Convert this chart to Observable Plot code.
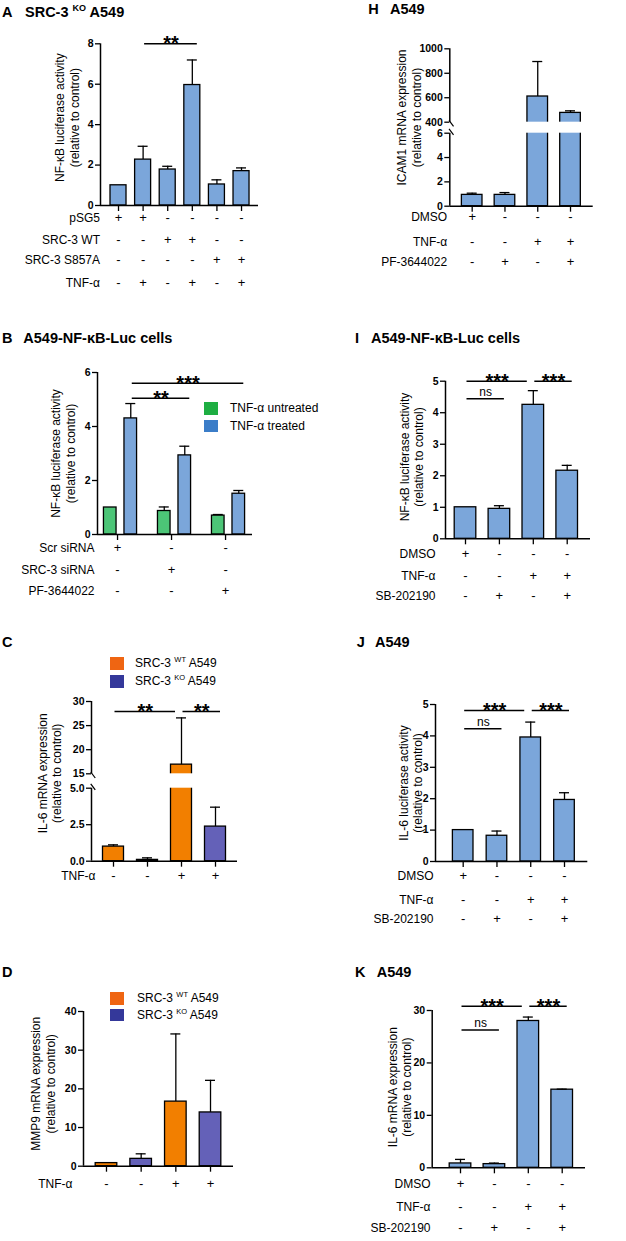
<!DOCTYPE html>
<html><head><meta charset="utf-8">
<script src="https://cdn.jsdelivr.net/npm/d3@7"></script>
<script src="https://cdn.jsdelivr.net/npm/@observablehq/plot@0.6"></script>
<style>
body{margin:0;background:#fff;}
#fig{position:relative;width:626px;height:1241px;font-family:"Liberation Sans",Arial,Helvetica,sans-serif;color:#000;overflow:hidden;background:#fff;}
.ttl{position:absolute;font-weight:bold;font-size:14.5px;line-height:16px;white-space:nowrap;}
.leg{position:absolute;font-size:12px;line-height:14px;white-space:nowrap;}
.sw{position:absolute;width:14px;height:12.5px;}
.ttl sup{font-size:9px;vertical-align:0;position:relative;top:-6px;}
.leg sup{font-size:7.5px;vertical-align:0;position:relative;top:-5px;}
</style></head><body><div id="fig"></div><script>
// ---------- colours ----------
const blueBar = "#7ba6da", greenBar = "#4cc577", orangeBar = "#f27f00", purpleBar = "#6461b8";
const greenKey = "#1eae42", blueKey = "#3b7dc8", orangeKey = "#ef6512", purpleKey = "#34389a";

// ---------- Panel A ----------
const aBars = [1.00, 2.27, 1.78, 5.96, 1.04, 1.70];
const aErrs = [0, 0.66, 0.16, 1.24, 0.23, 0.16];
const aYTicks = [0, 2, 4, 6, 8];
const aRowLabels = ["pSG5", "SRC-3 WT", "SRC-3 S857A", "TNF-α"];
const aRowSigns = [["+","+","-","-","-","-"],["-","-","+","+","-","-"],["-","-","-","-","+","+"],["-","+","-","+","-","+"]];
const aSig = [{from: 2, to: 4, y: 8, label: "**"}];

// ---------- Panel B ----------
const bSeries = ["TNF-α untreated", "TNF-α treated"];
const bUntreated = [1.00, 0.87, 0.70];
const bUntreatedErr = [0, 0.15, 0.04];
const bTreated = [4.30, 2.93, 1.51];
const bTreatedErr = [0.55, 0.34, 0.12];
const bYTicks = [0, 2, 4, 6];
const bRowLabels = ["Scr siRNA", "SRC-3 siRNA", "PF-3644022"];
const bRowSigns = [["+","-","-"],["-","+","-"],["-","-","+"]];
const bSig = [{from: 2, to: 4, y: 5.05, label: "**"}, {from: 2, to: 6, y: 5.6, label: "***"}];

// ---------- Panel C ----------
const cSeries = ["WT", "KO", "WT", "KO"];
const cBars = [1.00, 0.09, 16.9, 2.37];
const cErrs = [0.12, 0.14, 9.7, 1.33];
const cYTicks = [0, 2.5, 5, 15, 20, 25, 30];
const cRowLabels = ["TNF-α"];
const cRowSigns = [["-","-","+","+"]];
const cSig = [{from: 1, to: 3, y: 27.9, label: "**"}, {from: 3, to: 4, y: 27.9, label: "**"}];

// ---------- Panel D ----------
const dSeries = ["WT", "KO", "WT", "KO"];
const dBars = [0.8, 1.9, 16.7, 13.9];
const dErrs = [0, 1.3, 17.5, 8.3];
const dYTicks = [0, 10, 20, 30, 40];
const dRowLabels = ["TNF-α"];
const dRowSigns = [["-","-","+","+"]];

// ---------- Panel H ----------
const hBars = [0.93, 0.93, 610, 476];
const hErrs = [0.14, 0.19, 286, 17];
const hYTicks = [0, 2, 4, 6, 400, 600, 800, 1000];
const hRowLabels = ["DMSO", "TNF-α", "PF-3644022"];
const hRowSigns = [["+","-","-","-"],["-","-","+","+"],["-","+","-","+"]];

// ---------- Panel I ----------
const iBars = [1.00, 0.95, 4.25, 2.16];
const iErrs = [0, 0.10, 0.45, 0.17];
const iYTicks = [0, 1, 2, 3, 4, 5];
const iRowLabels = ["DMSO", "TNF-α", "SB-202190"];
const iRowSigns = [["+","-","-","-"],["-","-","+","+"],["-","+","-","+"]];
const iSig = [{from: 1, to: 3, y: 5, label: "***"}, {from: 3, to: 4, y: 5, label: "***"}, {from: 1, to: 2, y: 4.44, label: "ns"}];

// ---------- Panel J ----------
const jBars = [1.00, 0.82, 3.95, 1.96];
const jErrs = [0, 0.15, 0.49, 0.23];
const jYTicks = [0, 1, 2, 3, 4, 5];
const jRowLabels = ["DMSO", "TNF-α", "SB-202190"];
const jRowSigns = [["+","-","-","-"],["-","-","+","+"],["-","+","-","+"]];
const jSig = [{from: 1, to: 3, y: 4.81, label: "***"}, {from: 3, to: 4, y: 4.81, label: "***"}, {from: 1, to: 2, y: 4.23, label: "ns"}];

// ---------- Panel K ----------
const kBars = [0.83, 0.70, 28.0, 14.9];
const kErrs = [0.77, 0.2, 0.75, 0.1];
const kYTicks = [0, 10, 20, 30];
const kRowLabels = ["DMSO", "TNF-α", "SB-202190"];
const kRowSigns = [["+","-","-","-"],["-","-","+","+"],["-","+","-","+"]];
const kSig = [{from: 1, to: 3, y: 30.8, label: "***"}, {from: 3, to: 4, y: 30.8, label: "***"}, {from: 1, to: 2, y: 26.3, label: "ns"}];

// ---------- drawing ----------
const FONT = '"Liberation Sans", Arial, Helvetica, sans-serif';
const fig = document.getElementById("fig");
const slash = {draw(ctx, size) { const r = Math.sqrt(size / Math.PI); ctx.moveTo(-r * 0.75, -r); ctx.lineTo(r * 0.75, r); }};

function simpleBars(vals, errs, fills) {
  return vals.map((v, i) => ({x: i + 1, v, e: errs[i], fill: fills[i]}));
}

function drawPanel(p) {
  const [L, T, W, H] = p.box;
  const [fx0, fx1, fyTop, fyBot] = p.frame;
  const ux = (fx1 - fx0) / (p.xDom[1] - p.xDom[0]);
  const hw = p.barHalf / ux, ch = 5 / ux;
  const bars = p.bars;
  const withErr = bars.filter(d => d.e > 0);
  const sigList = p.sigs || [];
  const sigs = sigList.map(s => {
    const cont = sigList.some(t => t.from === s.to);
    return {...s, x1: bars[s.from - 1].x + 1.5 / ux, x2: bars[s.to - 1].x + (cont ? -6 : 5) / ux};
  });
  const segs = p.segments || [{lo: p.yDom[0], hi: p.yDom[p.yDom.length - 1]}];
  const xTicks = p.xTicks || bars.map(d => d.x);
  const marks = [
    Plot.rect(bars, {x1: d => d.x - hw, x2: d => d.x + hw, y1: () => 0, y2: d => d.v, fill: d => d.fill, stroke: "#000", strokeWidth: 1.3}),
    Plot.ruleX(withErr, {x: d => d.x, y1: d => d.v, y2: d => d.v + d.e, strokeWidth: 1.3}),
    Plot.ruleY(withErr, {y: d => d.v + d.e, x1: d => d.x - ch, x2: d => d.x + ch, strokeWidth: 1.3})
  ];
  if (p.gaps) {
    marks.push(Plot.rect(p.gaps, {x1: () => p.xDom[0], x2: () => p.xDom[1], y1: d => d.lo, y2: d => d.hi, fill: "#fff"}));
    marks.push(Plot.dot(p.gaps, {x: () => p.xDom[0], y: d => d.hi, symbol: slash, r: 3, fill: "none", stroke: "#000", strokeWidth: 1.2, dx: 1.5, dy: 1.2}));
    marks.push(Plot.dot(p.gaps, {x: () => p.xDom[0], y: d => d.lo, symbol: slash, r: 3, fill: "none", stroke: "#000", strokeWidth: 1.2, dx: 1.5, dy: -1.4}));
  }
  marks.push(
    Plot.ruleX(segs, {x: () => p.xDom[0], y1: d => d.lo, y2: d => d.hi, strokeWidth: 1.5}),
    Plot.ruleY([0], {strokeWidth: 1.5}),
    Plot.axisY({ticks: p.yTicks, tickFormat: p.tickFmt || (d => String(d)), tickSize: 5, tickPadding: 2, fontSize: 10.5, fontWeight: "bold", strokeWidth: 1.3, label: null}),
    Plot.axisX({ticks: xTicks, tickSize: 6, tickFormat: () => "", label: null, strokeWidth: 1.3}),
    Plot.text([p.yTitle], {text: d => d, frameAnchor: "left", textAnchor: "middle", lineAnchor: "middle", rotate: -90, dx: p.yTitleDx, dy: p.yTitleDy, fontSize: 12, lineHeight: 1.2})
  );
  p.rowLabels.forEach((lab, k) => {
    marks.push(Plot.text([lab], {text: d => d, frameAnchor: "bottom-left", textAnchor: "end", dx: p.rowLabelDx, dy: p.rowDy[k], fontSize: 12}));
    marks.push(Plot.text(p.rowSigns[k].map((s, i) => ({s, x: xTicks[i]})), {x: d => d.x, text: d => d.s, frameAnchor: "bottom", textAnchor: "middle", dy: p.rowDy[k], fontSize: 13}));
  });
  if (sigs.length) {
    marks.push(Plot.ruleY(sigs, {y: d => d.y, x1: d => d.x1, x2: d => d.x2, strokeWidth: 1.5}));
    marks.push(Plot.text(sigs.filter(d => d.label !== "ns"), {x: d => (d.x1 + d.x2) / 2, y: d => d.y, text: d => d.label, fontWeight: "bold", fontSize: 20, lineAnchor: "bottom", dy: 6.5}));
    marks.push(Plot.text(sigs.filter(d => d.label === "ns"), {x: d => (d.x1 + d.x2) / 2, y: d => d.y, text: d => d.label, fontSize: 12, lineAnchor: "bottom", dy: -3}));
  }
  const svg = Plot.plot({
    width: W, height: H,
    marginLeft: fx0 - L, marginRight: L + W - fx1, marginTop: fyTop - T, marginBottom: T + H - fyBot,
    x: {type: "linear", domain: p.xDom, range: [fx0 - L, fx1 - L]},
    y: {type: "linear", domain: p.yDom, range: p.yPix.map(v => v - T)},
    style: {fontFamily: FONT, fontSize: "12px", background: "transparent", overflow: "visible", color: "#000"},
    marks
  });
  svg.style.position = "absolute";
  svg.style.left = L + "px";
  svg.style.top = T + "px";
  svg.style.maxWidth = "none";
  fig.append(svg);
}

function addTitle(letter, lx, text, tx, cy) {
  const a = document.createElement("div");
  a.className = "ttl"; a.style.left = lx + "px"; a.style.top = (cy - 7.8) + "px"; a.textContent = letter;
  fig.append(a);
  if (text) {
    const b = document.createElement("div");
    b.className = "ttl"; b.style.left = tx + "px"; b.style.top = (cy - 7.8) + "px"; b.innerHTML = text;
    fig.append(b);
  }
}
function addLegend(sx, tx, items) {
  items.forEach(it => {
    const s = document.createElement("div");
    s.className = "sw"; s.style.left = sx + "px"; s.style.top = it.sy + "px"; s.style.background = it.color;
    fig.append(s);
    const t = document.createElement("div");
    t.className = "leg"; t.style.left = tx + "px"; t.style.top = (it.cy - 6.9) + "px"; t.innerHTML = it.html;
    fig.append(t);
  });
}
const supLabel = (s) => "SRC-3 <sup>" + s + "</sup> A549";

// Panel A
drawPanel({
  box: [0, 25, 305, 275], frame: [100, 258, 43.3, 205], xDom: [0.268, 6.69], barHalf: 8,
  bars: simpleBars(aBars, aErrs, aBars.map(() => blueBar)),
  yDom: [0, 8], yPix: [205, 43.3], yTicks: aYTicks,
  yTitle: "NF-κB luciferase activity\n(relative to control)", yTitleDx: -33.5, yTitleDy: -7,
  rowLabels: aRowLabels, rowSigns: aRowSigns, rowDy: [16, 38, 58, 81], rowLabelDx: -0.5, sigs: aSig
});
// Panel B
const bBarData = [];
bTreated.forEach((v, g) => {
  bBarData.push({x: g + 1 - 0.19, v: bUntreated[g], e: bUntreatedErr[g], fill: greenBar});
  bBarData.push({x: g + 1 + 0.19, v, e: bTreatedErr[g], fill: blueBar});
});
drawPanel({
  box: [0, 355, 310, 250], frame: [97, 252, 372, 534], xDom: [0.574, 3.444], barHalf: 6.3,
  bars: bBarData, xTicks: bTreated.map((v, g) => g + 1 - 0.055),
  yDom: [0, 6], yPix: [534, 372], yTicks: bYTicks,
  yTitle: "NF-κB luciferase activity\n(relative to control)", yTitleDx: -34.5, yTitleDy: 0,
  rowLabels: bRowLabels, rowSigns: bRowSigns, rowDy: [17, 39, 60], rowLabelDx: -3, sigs: bSig
});
// Panel C
drawPanel({
  box: [0, 690, 300, 210], frame: [91, 237, 701, 860.7], xDom: [0.353, 4.647], barHalf: 10.5,
  bars: simpleBars(cBars, cErrs, cSeries.map(s => s === "WT" ? orangeBar : purpleBar)),
  yDom: [0, 5, 15, 30], yPix: [860.7, 787.7, 773.3, 701], yTicks: cYTicks,
  tickFmt: d => d <= 5 ? d.toFixed(1) : String(d),
  segments: [{lo: 0, hi: 5}, {lo: 15, hi: 30}], gaps: [{lo: 5, hi: 15}],
  yTitle: "IL-6 mRNA expression\n(relative to control)", yTitleDx: -42, yTitleDy: -8,
  rowLabels: cRowLabels, rowSigns: cRowSigns, rowDy: [19], rowLabelDx: 4, sigs: cSig
});
// Panel D
drawPanel({
  box: [0, 1000, 300, 210], frame: [83, 233, 1011, 1165.7], xDom: [0.337, 4.663], barHalf: 10.8,
  bars: simpleBars(dBars, dErrs, dSeries.map(s => s === "WT" ? orangeBar : purpleBar)),
  yDom: [0, 40], yPix: [1165.7, 1011], yTicks: dYTicks,
  yTitle: "MMP9 mRNA expression\n(relative to control)", yTitleDx: -40.5, yTitleDy: -5,
  rowLabels: dRowLabels, rowSigns: dRowSigns, rowDy: [22], rowLabelDx: -11
});
// Panel H
drawPanel({
  box: [313, 25, 300, 260], frame: [449.3, 592.7, 48.3, 205.7], xDom: [0.317, 4.692], barHalf: 10.3,
  bars: simpleBars(hBars, hErrs, hBars.map(() => blueBar)),
  yDom: [0, 6, 400, 1000], yPix: [205.7, 132.7, 121.7, 48.3], yTicks: hYTicks,
  segments: [{lo: 0, hi: 6}, {lo: 400, hi: 1000}], gaps: [{lo: 6, hi: 400}],
  yTitle: "ICAM1 mRNA expression\n(relative to control)", yTitleDx: -41, yTitleDy: -10,
  rowLabels: hRowLabels, rowSigns: hRowSigns, rowDy: [15, 39.3, 59.3], rowLabelDx: -2.6
});
// Panel I
drawPanel({
  box: [313, 350, 300, 260], frame: [445, 590, 380.7, 538.3], xDom: [0.41, 4.687], barHalf: 10.8,
  bars: simpleBars(iBars, iErrs, iBars.map(() => blueBar)),
  yDom: [0, 5], yPix: [538.3, 380.7], yTicks: iYTicks,
  yTitle: "NF-κB luciferase activity\n(relative to control)", yTitleDx: -34, yTitleDy: -3,
  rowLabels: iRowLabels, rowSigns: iRowSigns, rowDy: [19, 41, 61], rowLabelDx: -10, sigs: iSig
});
// Panel J
drawPanel({
  box: [313, 680, 300, 260], frame: [435, 587.3, 704, 861], xDom: [0.18, 4.69], barHalf: 10.3,
  bars: simpleBars(jBars, jErrs, jBars.map(() => blueBar)),
  yDom: [0, 5], yPix: [861, 704], yTicks: jYTicks,
  yTitle: "IL-6 luciferase activity\n(relative to control)", yTitleDx: -25, yTitleDy: 0,
  rowLabels: jRowLabels, rowSigns: jRowSigns, rowDy: [18.3, 42.3, 61.7], rowLabelDx: -2, sigs: jSig
});
// Panel K
drawPanel({
  box: [313, 990, 300, 251], frame: [431.7, 585, 1010, 1167.3], xDom: [0.165, 4.687], barHalf: 10.8,
  bars: simpleBars(kBars, kErrs, kBars.map(() => blueBar)),
  yDom: [0, 30], yPix: [1167.3, 1010], yTicks: kYTicks,
  yTitle: "IL-6 mRNA expression\n(relative to control)", yTitleDx: -33, yTitleDy: -2,
  rowLabels: kRowLabels, rowSigns: kRowSigns, rowDy: [20, 43.4, 63.7], rowLabelDx: -1.7, sigs: kSig
});

// Titles
addTitle("A", 2, "SRC-3 <sup>KO</sup> A549", 25, 12);
addTitle("B", 2, "A549-NF-κB-Luc cells", 23.3, 338);
addTitle("C", 2, null, 0, 642);
addTitle("D", 2, null, 0, 972);
addTitle("H", 368.3, "A549", 390, 9);
addTitle("I", 355, "A549-NF-κB-Luc cells", 371, 338);
addTitle("J", 356.7, "A549", 375, 641.7);
addTitle("K", 355, "A549", 376.7, 971.7);

// Legends
addLegend(204, 230, [{sy: 402, cy: 408, color: greenKey, html: bSeries[0]}, {sy: 419.5, cy: 426, color: blueKey, html: bSeries[1]}]);
addLegend(110, 135, [{sy: 657, cy: 663, color: orangeKey, html: supLabel("WT")}, {sy: 675, cy: 681, color: purpleKey, html: supLabel("KO")}]);
addLegend(110, 137, [{sy: 992, cy: 998, color: orangeKey, html: supLabel("WT")}, {sy: 1008.5, cy: 1015, color: purpleKey, html: supLabel("KO")}]);
</script></body></html>
